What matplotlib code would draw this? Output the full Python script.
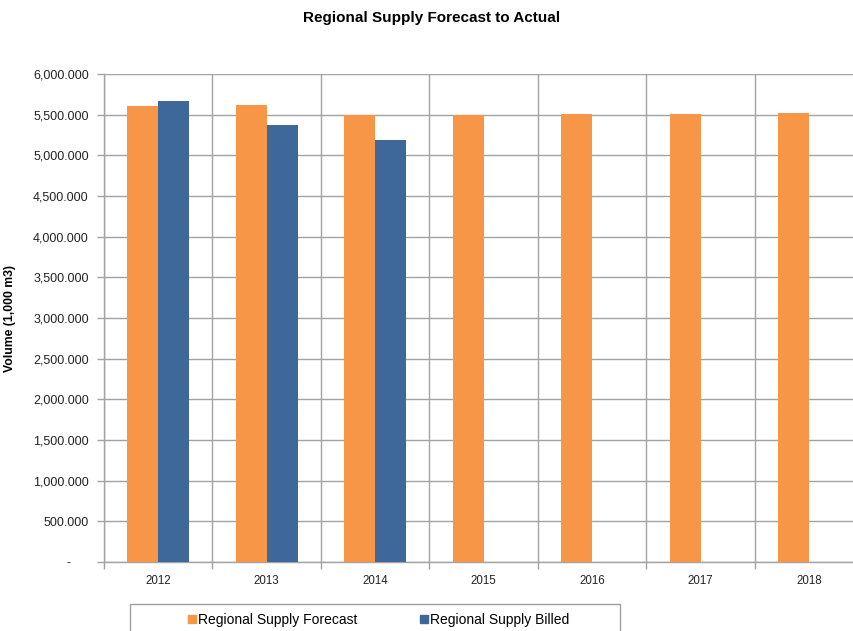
import matplotlib
matplotlib.use("Agg")
import matplotlib.pyplot as plt
from matplotlib.ticker import FuncFormatter, FixedLocator
from matplotlib.patches import Rectangle
from matplotlib.lines import Line2D

plt.rcParams['font.family'] = ['Liberation Sans', 'DejaVu Sans']

years = ["2012", "2013", "2014", "2015", "2016", "2017", "2018"]
forecast = [5603, 5624, 5491, 5491, 5504, 5512, 5525]
billed = [5669, 5367, 5185]

c_fore = "#F79646"
c_bill = "#3D6899"
grid_c = "#a3a3a3"

fig = plt.figure(figsize=(8.54, 6.31), dpi=100)
ax = fig.add_axes([104/854, 69/631, 759.5/854, 488/631])

w = 0.286
xs = list(range(len(years)))
ax.bar([x - w/2 for x in xs], forecast, width=w, color=c_fore, zorder=3)
ax.bar([x + w/2 for x in range(len(billed))], billed, width=w, color=c_bill, zorder=3)

ax.set_xlim(-0.5, len(years) - 0.5)
ax.set_ylim(0, 6000)
ax.yaxis.set_major_locator(FixedLocator([i * 500 for i in range(13)]))
ax.yaxis.set_major_formatter(FuncFormatter(lambda v, p: "-     " if v == 0 else f"{v:,.3f}"))

ax.set_xticks(xs)
ax.set_xticklabels(years)
ax.set_xticks([x + 0.5 for x in xs[:-1]] + [-0.5], minor=True)
ax.tick_params(axis='x', which='major', length=0, pad=9, labelsize=8.3, colors='#222222')
ax.tick_params(axis='x', which='minor', length=5, width=1, color=grid_c)
ax.tick_params(axis='y', length=5, width=1, color=grid_c, pad=6, labelsize=9, labelcolor='#222222')

ax.grid(True, axis='y', which='major', color=grid_c, lw=1, zorder=0)
ax.grid(True, axis='x', which='minor', color=grid_c, lw=1, zorder=0)

for s in ['top', 'right']:
    ax.spines[s].set_visible(False)
for s in ['left', 'bottom']:
    ax.spines[s].set_color(grid_c)
    ax.spines[s].set_linewidth(1)

ax.set_ylabel("Volume (1,000 m3)", fontsize=8.8, fontweight='bold')
ax.yaxis.set_label_coords(-(104 - 16) / 759.5, 0.5)

fig.text(0.505, 1 - 18/631, "Regional Supply Forecast to Actual", ha='center', va='center',
         fontsize=11, fontweight='bold')

# legend box
fig.patches.append(Rectangle((130/854, -10/631), 490/854, 37/631, transform=fig.transFigure,
                             fill=False, edgecolor='#a0a0a0', lw=1))
handles = [Line2D([], [], marker='s', ls='none', color=c_fore, markersize=6),
           Line2D([], [], marker='s', ls='none', color=c_bill, markersize=6)]
fig.legend(handles, ["Regional Supply Forecast", "Regional Supply Billed"],
           loc='center', bbox_to_anchor=(378/854, 1 - 620/631), ncol=2, frameon=False,
           fontsize=10, handletextpad=0.05, columnspacing=4.4, handlelength=0.8)

fig.savefig("out.png", dpi=100)
